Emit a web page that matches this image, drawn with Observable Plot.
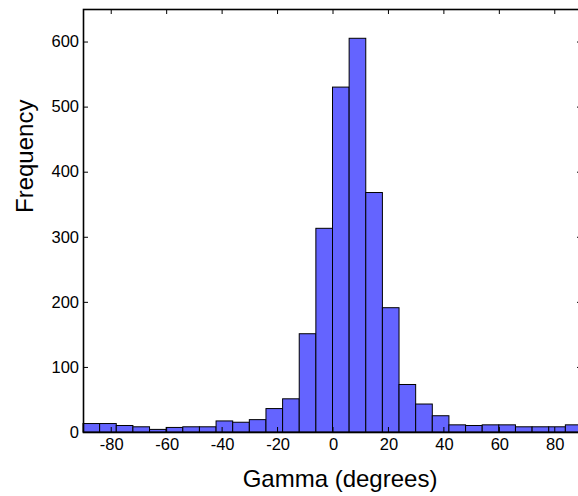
<!DOCTYPE html>
<html>
<head>
<meta charset="utf-8">
<script src="https://cdn.jsdelivr.net/npm/d3@7"></script>
<script src="https://cdn.jsdelivr.net/npm/@observablehq/plot@0.6"></script>
<style>
  html, body { margin: 0; padding: 0; background: #fff; overflow: hidden; }
  #chart { width: 578px; height: 496px; overflow: hidden; }
  #chart svg { max-width: none !important; }
</style>
</head>
<body>
<div id="chart"></div>
<script>
// Bin edges (degrees), bin width 6 from -90 to 90
const binStarts = [-90,-84,-78,-72,-66,-60,-54,-48,-42,-36,-30,-24,-18,-12,-6,0,6,12,18,24,30,36,42,48,54,60,66,72,78,84];
const binWidth = 6;
const counts = [13,13,10,8,4,7,8,8,17,15,19,36,51,151,313,530,605,368,191,73,43,25,11,10,11,11,8,8,8,11];
const xTicks = [-80,-60,-40,-20,0,20,40,60,80];
const yTicks = [0,100,200,300,400,500,600];

const bins = binStarts.map((s, i) => ({x1: s, x2: s + binWidth, y: counts[i]}));

const W = 582, H = 496, mL = 83, mT = 9, mB = 64, mR = 0;
const pw = W - mL - mR, ph = H - mT - mB;
const tk = 5;

const chart = Plot.plot({
  width: W, height: H,
  marginLeft: mL, marginTop: mT, marginBottom: mB, marginRight: mR,
  style: {fontFamily: "'Liberation Sans', Arial, sans-serif", fontSize: "16px", color: "#000", background: "#fff", maxWidth: "none"},
  x: {domain: [-90, 90], axis: null},
  y: {domain: [0, 650], axis: null},
  marks: [
    Plot.rectY(bins, {x1: "x1", x2: "x2", y: "y", fill: "#6464ff", stroke: "#000", strokeWidth: 1}),
    // tick labels
    Plot.text(xTicks, {x: d => d, frameAnchor: "bottom", text: d => String(d), dy: 6, dx: 0.5, lineAnchor: "top", fontSize: 16.5, fill: "#000"}),
    Plot.text(yTicks, {y: d => d, frameAnchor: "left", text: d => String(d), dx: -4.5, textAnchor: "end", lineAnchor: "middle", fontSize: 16.5, fill: "#000"}),
    // inward ticks: bottom, top, left, right
    Plot.tickX(xTicks, {x: d => d, insetTop: ph - tk, stroke: "#000", strokeWidth: 1}),
    Plot.tickX(xTicks, {x: d => d, insetBottom: ph - tk, stroke: "#000", strokeWidth: 1}),
    Plot.tickY(yTicks, {y: d => d, insetRight: pw - tk, stroke: "#000", strokeWidth: 1}),
    Plot.tickY(yTicks, {y: d => d, insetLeft: pw - tk, stroke: "#000", strokeWidth: 1}),
    Plot.frame({stroke: "#000", strokeWidth: 1.6}),
    Plot.text(["Frequency"], {frameAnchor: "left", text: d => d, rotate: -90, dx: -58, dy: -8, lineAnchor: "middle", fontSize: 24, fill: "#000"}),
    Plot.text(["Gamma (degrees)"], {frameAnchor: "bottom", text: d => d, dx: 7, dy: 47, lineAnchor: "middle", fontSize: 24, fill: "#000"})
  ]
});
document.getElementById("chart").appendChild(chart);
</script>
</body>
</html>
